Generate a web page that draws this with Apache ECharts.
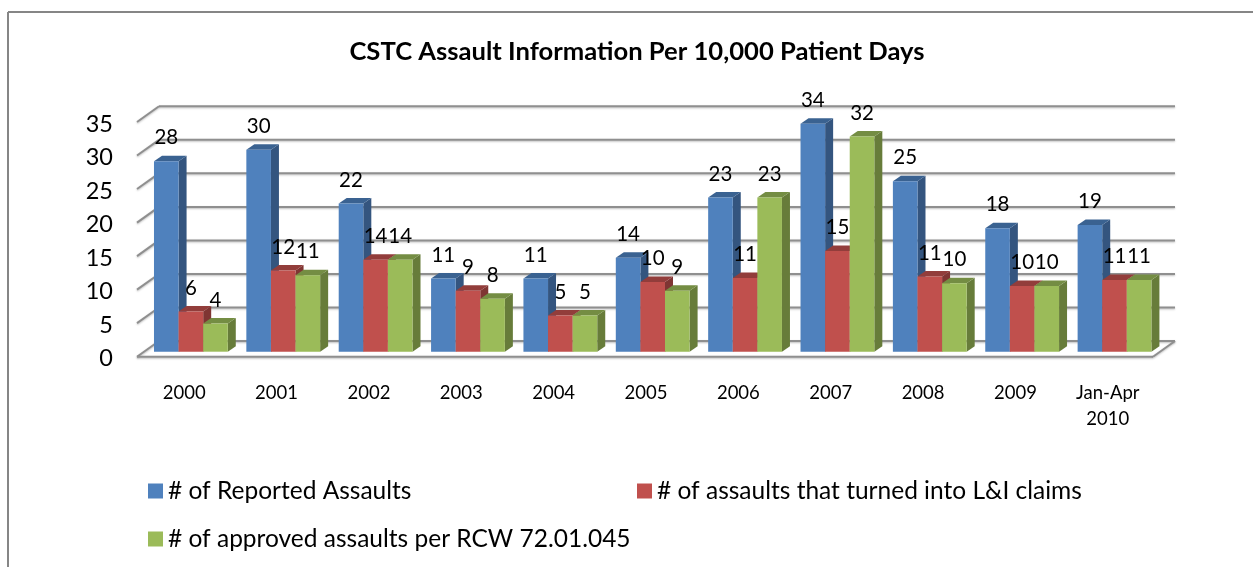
<!DOCTYPE html>
<html>
<head>
<meta charset="utf-8">
<title>CSTC Assault Information</title>
<script src="https://cdn.jsdelivr.net/npm/echarts@6/dist/echarts.min.js"></script>
<style>
  html, body { margin: 0; padding: 0; background: #fff; }
  #chart { width: 1253px; height: 567px; }
</style>
</head>
<body>
<div id="chart"></div>
<script>
const categories = ['2000', '2001', '2002', '2003', '2004', '2005', '2006', '2007', '2008', '2009', 'Jan-Apr\n2010'];
const reported = [28.4, 30.1, 22.1, 10.9, 10.9, 14.0, 23.0, 34.0, 25.4, 18.4, 18.9];
const claims = [6.0, 12.1, 13.7, 9.1, 5.4, 10.4, 11.0, 15.0, 11.2, 9.8, 10.7];
const approved = [4.2, 11.4, 13.7, 7.9, 5.4, 9.1, 23.0, 32.1, 10.2, 9.8, 10.7];
const yTicks = [0, 5, 10, 15, 20, 25, 30, 35];

const FONT = 'Lato';
const GRAY = '#8f8f8f';
// wall/floor depth and bar depth, in pixels
const WALL_DX = 22, WALL_DY = -15.7;
const BAR_DX = 8, BAR_DY = -5.5;
const BAR_W = 24.6, BAR_SHIFT_X = 7.7, BAR_LIFT = 5;

// front, side, top colours of the bars
const BLUE = ['#4f81bd', '#34557f', '#3a6291'];
const RED = ['#c0504d', '#7f3533', '#923d3b'];
const GREEN = ['#9bbb59', '#677c3a', '#748d43'];

function renderWall(params, api) {
  const cs = params.coordSys;
  const v = api.value(1);
  const y = api.coord([0, v])[1];
  const x0 = cs.x, x1 = cs.x + cs.width;
  const line = (a, b, c, d) => ({
    type: 'line',
    shape: { x1: a, y1: b, x2: c, y2: d },
    style: { stroke: GRAY, lineWidth: 2, shadowColor: 'rgba(0,0,0,0.25)', shadowBlur: 2, shadowOffsetY: 1 }
  });
  const children = [
    line(x0 + WALL_DX, y + WALL_DY, x1 + WALL_DX, y + WALL_DY),
    line(x0, y, x0 + WALL_DX, y + WALL_DY)
  ];
  if (v === 0) {
    children.push(line(x0, y, x1, y));
    children.push(line(x1, y, x1 + WALL_DX, y + WALL_DY));
  }
  return { type: 'group', children };
}

function barRenderer(colors, slot) {
  return function (params, api) {
    const cx = api.coord([api.value(0), 0])[0];
    const left = cx + BAR_SHIFT_X + (slot - 1.5) * BAR_W;
    const right = left + BAR_W;
    const bottom = api.coord([0, 0])[1] - BAR_LIFT;
    const top = api.coord([0, api.value(1)])[1] - BAR_LIFT;
    const poly = (points, fill) => ({ type: 'polygon', shape: { points }, style: { fill } });
    return {
      type: 'group',
      children: [
        poly([[right, top], [right + BAR_DX, top + BAR_DY], [right + BAR_DX, bottom + BAR_DY], [right, bottom]], colors[1]),
        poly([[left, top], [left + BAR_DX, top + BAR_DY], [right + BAR_DX, top + BAR_DY], [right, top]], colors[2]),
        poly([[left, top], [right, top], [right, bottom], [left, bottom]], colors[0]),
        {
          type: 'text',
          z2: 100,
          style: {
            text: String(Math.round(api.value(1))),
            x: (left + right) / 2,
            y: top - 23.5,
            align: 'center',
            verticalAlign: 'middle',
            fontFamily: FONT,
            fontSize: 20.5,
            fill: '#000'
          }
        }
      ]
    };
  };
}

function barSeries(name, values, colors, slot) {
  return {
    name,
    type: 'custom',
    renderItem: barRenderer(colors, slot),
    itemStyle: { color: colors[0] },
    encode: { x: 0, y: 1 },
    clip: false,
    z: 3,
    data: values.map((v, i) => [i, v])
  };
}

function legendAt(name, left, top) {
  return {
    data: [name],
    left,
    top,
    padding: 0,
    icon: 'rect',
    itemWidth: 15,
    itemHeight: 15,
    itemGap: 0,
    selectedMode: false,
    textStyle: { fontFamily: FONT, fontSize: 24.5, color: '#000', padding: [0, 0, 0, 0] }
  };
}

const nameA = '# of Reported Assaults';
const nameB = '# of assaults that turned into L&I claims';
const nameC = '# of approved assaults per RCW 72.01.045';

const chart = echarts.init(document.getElementById('chart'), null, { renderer: 'canvas' });
chart.setOption({
  animation: false,
  backgroundColor: '#fff',
  title: {
    text: 'CSTC Assault Information Per 10,000 Patient Days',
    left: 632,
    top: 34,
    textAlign: 'center',
    textStyle: { fontFamily: FONT, fontSize: 25.6, fontWeight: 'bold', color: '#000' }
  },
  graphic: [
    { type: 'line', silent: true, shape: { x1: 8, y1: 12, x2: 1253, y2: 12 }, style: { stroke: '#868686', lineWidth: 2 } },
    { type: 'line', silent: true, shape: { x1: 8, y1: 12, x2: 8, y2: 567 }, style: { stroke: '#868686', lineWidth: 2 } }
  ],
  legend: [legendAt(nameA, 148, 478.5), legendAt(nameB, 637, 478.5), legendAt(nameC, 148, 526.5)],
  grid: { left: 137, right: 100, top: 122, bottom: 210.3 },
  xAxis: {
    type: 'category',
    data: categories,
    axisLine: { show: false },
    axisTick: { show: false },
    axisLabel: { interval: 0, margin: 23, lineHeight: 26, padding: [0, 0, 0, 2], fontFamily: FONT, fontSize: 18.5, color: '#000' }
  },
  yAxis: {
    type: 'value',
    min: 0,
    max: 35,
    interval: 5,
    axisLine: { show: false },
    axisTick: { show: false },
    splitLine: { show: false },
    axisLabel: { margin: 24, verticalAlign: 'top', lineHeight: 4, fontFamily: FONT, fontSize: 23.5, color: '#000' }
  },
  series: [
    {
      name: 'wall',
      type: 'custom',
      renderItem: renderWall,
      encode: { x: 0, y: 1 },
      clip: false,
      silent: true,
      z: 1,
      data: yTicks.map(v => [0, v])
    },
    barSeries(nameA, reported, BLUE, 0),
    barSeries(nameB, claims, RED, 1),
    barSeries(nameC, approved, GREEN, 2)
  ]
});
</script>
</body>
</html>
